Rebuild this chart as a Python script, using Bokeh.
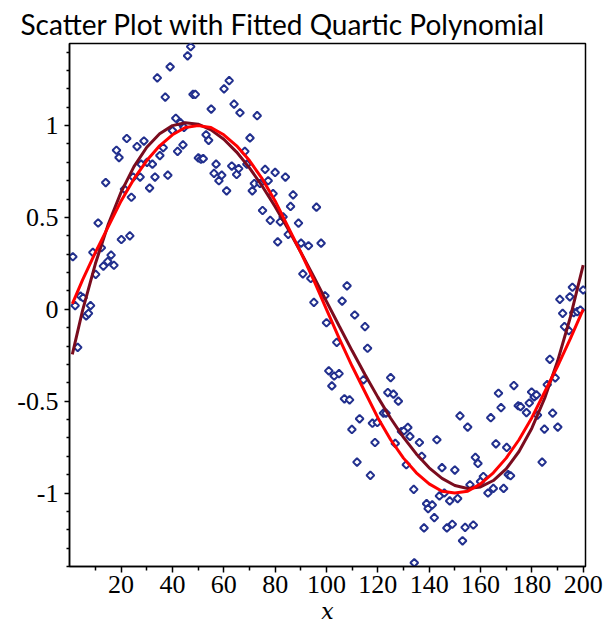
import math
from bokeh.plotting import figure
from bokeh.models import FixedTicker, Range1d
from bokeh.embed import file_html
from bokeh.resources import INLINE

# ---- data ----
pts_x = [1.2, 2.1, 4.2, 5.2, 8.1, 10.1, 9.0, 12.3, 11.05, 14.0, 13.1, 14.8, 16.1, 17.2, 18.2, 19.2, 20.1, 23.4, 21.3, 22.2,
         24.0, 24.7, 26.2, 27.4, 27.8, 28.9, 30.1, 31.1, 32.2, 33.2, 35.1, 36.4, 34.1, 37.2, 38.2, 39.1, 40.0, 41.3, 42.0, 43.1,
         44.1, 44.5, 45.9, 47.1, 48.0, 48.9, 50.1, 51.1, 52.0, 53.1, 54.1, 55.1, 57.0, 56.2, 58.1, 59.2, 60.1, 62.1, 61.1, 63.1,
         64.0, 65.0, 66.3, 65.8, 6.4, 7.3, 3.1,
         73.0, 70.2, 68.2, 69.0, 71.1, 71.9, 74.1, 76.1, 77.3, 80.0, 84.0, 79.2, 75.1, 78.1, 82.0, 83.1, 87.0, 86.0, 89.1, 81.0,
         85.1, 90.1, 93.0, 96.1, 97.9, 90.8, 93.9, 95.1, 99.4, 106.1, 108.0,
         100.0, 111.0, 115.0, 104.0, 116.0, 100.9, 103.0, 104.9, 102.1, 107.0, 109.0, 114.4, 112.9, 109.9, 117.9, 119.8, 122.2,
         123.2, 125.0, 123.9, 126.1, 128.0, 118.9, 111.9, 117.1, 126.8, 129.2, 130.2, 131.7, 131.1, 132.5,
         134.0, 136.2, 137.1, 139.0, 139.6, 141.2, 142.0, 138.0, 143.0, 145.0, 144.0, 145.9, 148.0, 146.9, 149.0, 150.0, 151.1,
         152.0, 155.0, 153.0, 154.0, 157.2, 155.9, 158.0, 159.0, 160.0, 161.1, 162.9, 165.0, 164.0, 166.0, 167.0, 168.0, 169.0,
         170.2, 170.8, 171.7, 173.0, 174.7, 175.6, 177.9, 179.0, 179.9, 180.9, 181.8, 182.2, 184.0, 184.9, 186.0, 187.0, 188.1,
         189.1, 190.1, 192.0, 192.7, 194.4, 196.3, 197.7, 198.9, 134.2,
         195.8, 200.0, 194.8, 190.9]
pts_y = [0.286, 0.02, 0.072, 0.063, 0.02, 0.19, 0.31, 0.335, 0.47, 0.69, 0.235, 0.26, 0.295, 0.24, 0.866, 0.826, 0.38, 0.40, 0.654, 0.93,
         0.61, 0.72, 0.886, 0.72, 0.79, 0.916, 0.80, 0.66, 0.79, 0.72, 0.837, 0.88, 1.26, 1.155, 0.73, 1.32, 0.973, 1.04, 0.86, 1.016,
         0.895, 0.99, 1.38, 1.43, 1.17, 1.17, 0.824, 0.817, 0.82, 0.95, 0.92, 1.09, 0.79, 0.74, 0.70, 0.73, 1.20, 1.245, 0.645, 0.78,
         1.117, 0.734, 1.07, 0.766, -0.036, -0.022, -0.207,
         1.054, 0.933, 0.86, 0.79, 0.645, 0.685, 0.685, 0.762, 0.70, 0.745, 0.72, 0.63, 0.538, 0.484, 0.476, 0.503, 0.623, 0.56, 0.469, 0.367,
         0.408, 0.36, 0.346, 0.556, 0.36, 0.193, 0.168, 0.038, 0.074, 0.045, 0.128,
         -0.073, -0.031, -0.094, -0.18, -0.212, -0.335, -0.363, -0.35, -0.417, -0.487, -0.493, -0.384, -0.596, -0.654, -0.62, -0.616, -0.565,
         -0.565, -0.372, -0.453, -0.462, -0.5, -0.725, -0.832, -0.904, -0.73, -0.665, -0.661, -0.643, -0.846, -0.692,
         -0.98, -0.725, -0.80, -1.058, -1.085, -1.065, -1.134, -1.19, -0.71, -0.862, -1.016, -1.0, -1.043, -1.19, -1.17, -0.875, -1.03,
         -0.58, -0.641, -1.26, -1.187, -1.174, -0.955, -0.806, -0.839, -0.937, -0.91, -1.0, -0.975, -0.59, -0.732, -0.457, -0.535, -0.975,
         -0.752, -0.9, -0.906, -0.415, -0.525, -0.53, -0.562, -0.51, -0.45, -0.477, -0.466, -0.576, -0.832, -0.652, -0.41, -0.272, -0.565,
         -0.373, -0.641, -0.022, -0.094, -0.116, -0.018, -0.013, -0.004, -1.38,
         0.12, 0.105, 0.068, 0.054]

curve_x = [1, 5, 10, 15, 20, 25, 30, 35, 40, 45, 50, 55, 60, 65, 70, 75, 80, 85, 90, 95, 100,
           105, 110, 115, 120, 125, 130, 135, 140, 145, 150, 155, 160, 165, 170, 175, 180, 185, 190, 195, 200]
red_y = [0.03, 0.16, 0.31, 0.45, 0.59, 0.71, 0.81, 0.89, 0.95, 0.99, 1.00, 0.99, 0.95, 0.89, 0.81, 0.71, 0.59, 0.45, 0.31, 0.16, 0.00,
         -0.16, -0.31, -0.45, -0.59, -0.71, -0.81, -0.89, -0.95, -0.99, -1.00, -0.99, -0.95, -0.89, -0.81, -0.71, -0.59, -0.45, -0.31, -0.16, 0.00]
quartic_y = [-0.245, -0.006, 0.249, 0.463, 0.638, 0.777, 0.882, 0.956, 1.000, 1.016, 1.008, 0.977, 0.926, 0.856, 0.770, 0.670, 0.559,
             0.439, 0.311, 0.179, 0.043, -0.092, -0.226, -0.355, -0.478, -0.593, -0.697, -0.787, -0.863, -0.920, -0.959, -0.975,
             -0.967, -0.932, -0.869, -0.774, -0.647, -0.484, -0.283, -0.043, 0.241]

x_major = [20, 40, 60, 80, 100, 120, 140, 160, 180, 200]
x_minor = [10, 30, 50, 70, 90, 110, 130, 150, 170, 190]
y_major = [-1, -0.5, 0, 0.5, 1]
y_major_labels = ["-1", "-0.5", "0", "0.5", "1"]
y_minor = [-1.4, -1.3, -1.2, -1.1, -0.9, -0.8, -0.7, -0.6, -0.4, -0.3, -0.2, -0.1,
           0.1, 0.2, 0.3, 0.4, 0.6, 0.7, 0.8, 0.9, 1.1, 1.2, 1.3, 1.4]

title_text = "Scatter Plot with Fitted Quartic Polynomial"
xlabel_text = "x"

p = figure(width=606, height=626, output_backend="svg", toolbar_location=None,
           x_range=Range1d(-0.1, 200.9), y_range=Range1d(-1.40, 1.447),
           min_border_left=69, min_border_right=21, min_border_top=43, min_border_bottom=59,
           title=title_text)
p.title.text_font = "Lato"
p.title.text_font_size = "28px"
p.title.text_font_style = "normal"
p.title.text_color = "black"
p.title.align = "left"
p.title.offset = -49
p.title.standoff = 5

p.xgrid.visible = False
p.ygrid.visible = False
p.outline_line_color = "black"
p.outline_line_width = 1.5
p.outline_line_alpha = 1.0
p.background_fill_color = "white"
p.border_fill_color = "white"

p.xaxis.ticker = FixedTicker(ticks=x_major, minor_ticks=x_minor)
p.yaxis.ticker = FixedTicker(ticks=y_major, minor_ticks=y_minor)
p.yaxis.major_label_overrides = {v: s for v, s in zip(y_major, y_major_labels)}
p.xaxis.major_label_overrides = {v: str(v) for v in x_major}

for ax in (p.xaxis, p.yaxis):
    ax.axis_line_color = "black"
    ax.axis_line_width = 1.5
    ax.major_tick_line_color = "black"
    ax.minor_tick_line_color = "black"
    ax.major_tick_line_width = 1.5
    ax.minor_tick_line_width = 1.5
    ax.major_tick_in = 0
    ax.minor_tick_in = 0
    ax.major_label_text_font = "Liberation Serif"
    ax.major_label_text_font_size = "26px"
    ax.major_label_text_color = "black"
p.xaxis.major_tick_out = 6
p.xaxis.minor_tick_out = 4
p.xaxis.major_label_standoff = 3
p.yaxis.major_tick_out = 5
p.yaxis.minor_tick_out = 3
p.yaxis.major_label_standoff = 6

p.xaxis.axis_label = xlabel_text
p.xaxis.axis_label_text_font = "DejaVu Serif"
p.xaxis.axis_label_text_font_style = "italic"
p.xaxis.axis_label_text_font_size = "22px"
p.xaxis.axis_label_text_color = "black"
p.xaxis.axis_label_standoff = 3

p.scatter(pts_x, pts_y, marker="square", angle=math.pi / 4, size=5.5, line_color="#22308e", line_width=2,
          fill_color="white")
p.line(curve_x, quartic_y, line_color="#7a0c1e", line_width=3)
p.line(curve_x, red_y, line_color="#ff0000", line_width=3)

open("out.html", "w").write(file_html(p, INLINE))
